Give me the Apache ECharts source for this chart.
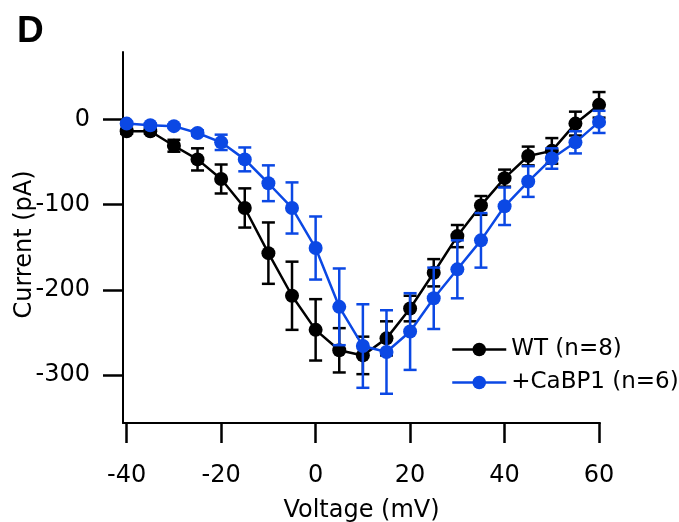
<!DOCTYPE html>
<html>
<head>
<meta charset="utf-8">
<script src="https://cdn.jsdelivr.net/npm/echarts@6/dist/echarts.min.js"></script>
<style>html,body{margin:0;padding:0;background:#fff;}#c{width:679px;height:522px;}</style>
</head>
<body>
<div id="c"></div>
<script>
const voltages = [-40,-35,-30,-25,-20,-15,-10,-5,0,5,10,15,20,25,30,35,40,45,50,55,60];
const wtMean = [-14,-14,-31,-47,-70,-104,-157,-207,-247,-271,-277,-257,-222,-180,-137,-101,-69,-43,-37,-5,17];
const wtErr  = [3,3,7,13,17,23,36,40,36,26,22,20,15,16,13,11,10,11,15,14,15];
const cabMean = [-5,-7,-8,-16,-27,-47,-75,-104,-151,-220,-266,-273,-249,-210,-176,-142,-102,-73,-46,-27,-3];
const cabErr  = [2,2,2,3,9,14,21,30,37,45,49,49,45,36,34,32,22,18,12,13,13];
const xTicks = [-40,-20,0,20,40,60];
const yTicks = [-300,-200,-100,0];
const seriesNames = ['WT (n=8)', '+CaBP1 (n=6)'];

const FONT = 'DejaVu Sans';
const BLUE = '#0b48e4';
const BLACK = '#000000';

function errRender(color){
  return function(params, api){
    const x = api.value(0), y = api.value(1), e = api.value(2);
    const hi = api.coord([x, y + e]), lo = api.coord([x, y - e]);
    const cw = 6.5;
    const style = {stroke: color, lineWidth: 2.5, fill: null};
    return {type:'group', children:[
      {type:'line', shape:{x1:hi[0],y1:hi[1],x2:lo[0],y2:lo[1]}, style: style},
      {type:'line', shape:{x1:hi[0]-cw,y1:hi[1],x2:hi[0]+cw,y2:hi[1]}, style: style},
      {type:'line', shape:{x1:lo[0]-cw,y1:lo[1],x2:lo[0]+cw,y2:lo[1]}, style: style}
    ]};
  };
}

const chart = echarts.init(document.getElementById('c'), null, {renderer:'canvas'});
chart.setOption({
  animation: false,
  backgroundColor: '#fff',
  title: {text:'D', left: 12, top: 8, textStyle:{fontFamily:'Liberation Sans', fontWeight:'bold', fontSize:37, color:'#000'}},
  grid: {left:123, right:79, top:52, bottom:99, containLabel:false, outerBoundsMode:'none'},
  legend: {
    orient:'vertical', left:446, top:333, itemWidth:54, itemHeight:17, itemGap:10,
    data: seriesNames,
    lineStyle:{width:2.5},
    textStyle:{fontFamily:FONT, fontSize:23, color:'#000'}
  },
  xAxis: {
    type:'value', min:-40.78, max:60.2,
    splitLine:{show:false},
    axisLine:{show:true, onZero:false, lineStyle:{color:'#000', width:2}},
    axisTick:{show:true, inside:false, length:20, customValues:xTicks, lineStyle:{color:'#000', width:2.5}},
    axisLabel:{customValues:xTicks, margin:41, fontFamily:FONT, fontSize:24, color:'#000'},
    name:'Voltage (mV)', nameLocation:'middle', nameGap:76, nameMoveOverlap:false,
    nameTextStyle:{fontFamily:FONT, fontSize:24, color:'#000'}
  },
  yAxis: {
    type:'value', min:-356.3, max:79,
    splitLine:{show:false},
    axisLine:{show:true, onZero:false, lineStyle:{color:'#000', width:2}},
    axisTick:{show:true, inside:false, length:20, customValues:yTicks, lineStyle:{color:'#000', width:2.5}},
    axisLabel:{customValues:yTicks, margin:33, fontFamily:FONT, fontSize:24, color:'#000'},
    name:'Current (pA)', nameLocation:'middle', nameGap:86, nameRotate:90, nameMoveOverlap:false,
    nameTextStyle:{fontFamily:FONT, fontSize:24, color:'#000', padding:[0,14,0,0]}
  },
  series: [
    {type:'custom', name:'wtErr', z:2, renderItem: errRender(BLACK), encode:{x:0,y:1},
     data: voltages.map((v,i)=>[v, wtMean[i], wtErr[i]])},
    {type:'line', name:seriesNames[0], z:3, symbol:'circle', symbolSize:14, showSymbol:true,
     color:BLACK, lineStyle:{color:BLACK, width:2.5}, itemStyle:{color:BLACK},
     data: voltages.map((v,i)=>[v, wtMean[i]])},
    {type:'custom', name:'cabErr', z:4, renderItem: errRender(BLUE), encode:{x:0,y:1},
     data: voltages.map((v,i)=>[v, cabMean[i], cabErr[i]])},
    {type:'line', name:seriesNames[1], z:5, symbol:'circle', symbolSize:14, showSymbol:true,
     color:BLUE, lineStyle:{color:BLUE, width:2.5}, itemStyle:{color:BLUE},
     data: voltages.map((v,i)=>[v, cabMean[i]])}
  ]
});
</script>
</body>
</html>
